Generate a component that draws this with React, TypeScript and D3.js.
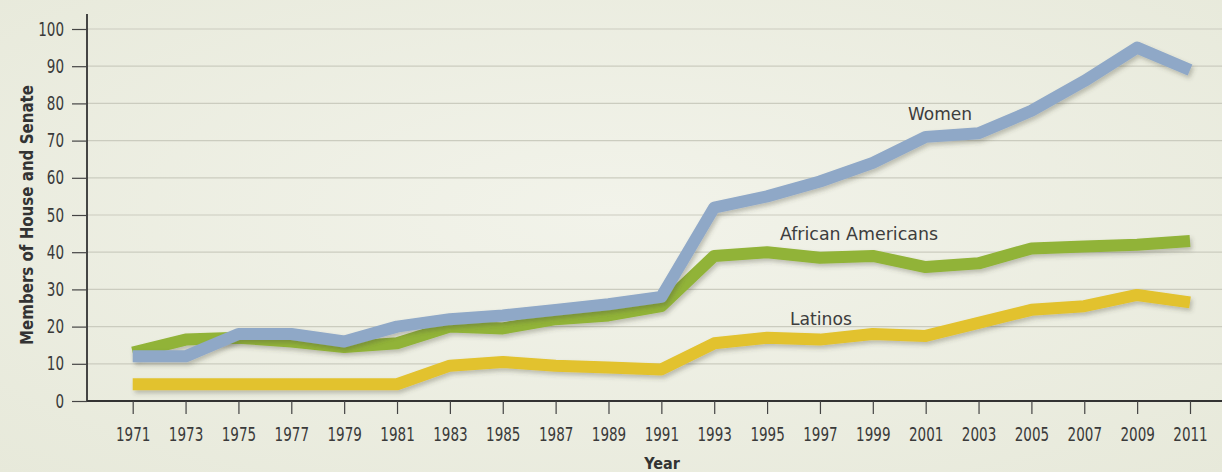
import { useEffect, useRef } from 'react'
import * as d3 from 'd3'

const years = [1971, 1973, 1975, 1977, 1979, 1981, 1983, 1985, 1987, 1989, 1991, 1993, 1995, 1997, 1999, 2001, 2003, 2005, 2007, 2009, 2011]
const women = [12, 12, 18, 18, 16, 20, 22, 23, 24.5, 26, 28, 52, 55, 59, 64, 71, 72, 78, 86, 95, 89]
const africanAmericans = [13, 16.5, 17, 16, 14.5, 15.5, 20, 19.5, 22, 23, 25.5, 39, 40, 38.5, 39, 36, 37, 41, 41.5, 42, 43]
const latinos = [4.5, 4.5, 4.5, 4.5, 4.5, 4.5, 9.5, 10.5, 9.5, 9, 8.5, 15.5, 17, 16.5, 18, 17.5, 21, 24.5, 25.5, 28.5, 26.5]
const yTicks = [0, 10, 20, 30, 40, 50, 60, 70, 80, 90, 100]

const W = 1222
const H = 472
const axisX = 87
const font = "'Liberation Sans Narrow', 'DejaVu Sans Condensed', 'Arial Narrow', sans-serif"

const series = [
  { name: 'Latinos', values: latinos, color: '#e2c22e', label: { x: 821, y: 318, len: 62 } },
  { name: 'African Americans', values: africanAmericans, color: '#91b338', label: { x: 859, y: 233, len: 158 } },
  { name: 'Women', values: women, color: '#8fa8c7', label: { x: 940, y: 113, len: 64 } },
]

export default function App() {
  const xAxisRef = useRef<SVGGElement | null>(null)
  const yAxisRef = useRef<SVGGElement | null>(null)

  const x = d3.scaleLinear().domain([1971, 2011]).range([132.7, 1190])
  const y = d3.scaleLinear().domain([0, 100]).range([401, 29])

  const line = d3
    .line<number>()
    .x((_, i) => x(years[i]))
    .y((d) => y(d))
    .curve(d3.curveLinear)

  useEffect(() => {
    if (!xAxisRef.current || !yAxisRef.current) return
    const xAxis = d3.axisBottom(x).tickValues(years).tickFormat(d3.format('d')).tickSize(13).tickPadding(14).tickSizeOuter(0)
    const yAxis = d3.axisLeft(y).tickValues(yTicks).tickSize(15).tickPadding(8).tickSizeOuter(0)
    const xg = d3.select(xAxisRef.current).call(xAxis)
    const yg = d3.select(yAxisRef.current).call(yAxis)
    for (const g of [xg, yg]) {
      g.select('.domain').remove()
      g.selectAll('line').attr('stroke', '#444').attr('stroke-width', 1.2)
      g.selectAll<SVGTextElement, number>('text')
        .attr('fill', '#3a3a3a')
        .attr('textLength', (d) => String(d).length * 8.6)
        .attr('lengthAdjust', 'spacingAndGlyphs')
        .style('font-family', font)
        .style('font-size', '19px')
    }
  }, [])

  return (
    <svg width={W} height={H} style={{ position: 'absolute', left: 0, top: 0 }}>
      <defs>
        <radialGradient id="bg" cx="50%" cy="45%" r="75%">
          <stop offset="0%" stopColor="#f2f3ea" />
          <stop offset="100%" stopColor="#e7e9da" />
        </radialGradient>
        <filter id="shadow" x="-5%" y="-20%" width="110%" height="140%">
          <feDropShadow dx="2" dy="3" stdDeviation="2" floodColor="#4a4a3a" floodOpacity="0.3" />
        </filter>
      </defs>
      <rect width={W} height={H} fill="url(#bg)" />

      <g className="grid">
        {yTicks.slice(1).map((t) => (
          <line key={t} x1={axisX} x2={W} y1={y(t)} y2={y(t)} stroke="#cbccbf" strokeWidth={1.2} />
        ))}
      </g>

      <g className="lines">
        {series.map((s) => (
          <path
            key={s.name}
            d={line(s.values) ?? ''}
            fill="none"
            stroke={s.color}
            strokeWidth={12}
            strokeLinejoin="round"
            strokeLinecap="butt"
            filter="url(#shadow)"
          />
        ))}
      </g>

      <line x1={axisX} x2={axisX} y1={14} y2={401} stroke="#333" strokeWidth={1.8} />
      <line x1={axisX} x2={W} y1={401} y2={401} stroke="#333" strokeWidth={1.8} />
      <g ref={xAxisRef} transform="translate(0,401)" />
      <g ref={yAxisRef} transform={`translate(${axisX},0)`} />

      {series.map((s) => (
        <text
          key={s.name}
          x={s.label.x}
          y={s.label.y}
          textAnchor="middle"
          dominantBaseline="central"
          textLength={s.label.len}
          lengthAdjust="spacingAndGlyphs"
          fill="#3d3d3d"
          style={{ fontFamily: font, fontSize: 18 }}
        >
          {s.name}
        </text>
      ))}

      <text
        transform="translate(27,215) rotate(-90)"
        textAnchor="middle"
        dominantBaseline="central"
        textLength={260}
        lengthAdjust="spacingAndGlyphs"
        fill="#333"
        style={{ fontFamily: font, fontSize: 17, fontWeight: 'bold' }}
      >
        Members of House and Senate
      </text>
      <text
        x={662}
        y={463}
        textAnchor="middle"
        dominantBaseline="central"
        fill="#333"
        style={{ fontFamily: font, fontSize: 16, fontWeight: 'bold' }}
      >
        Year
      </text>
    </svg>
  )
}
